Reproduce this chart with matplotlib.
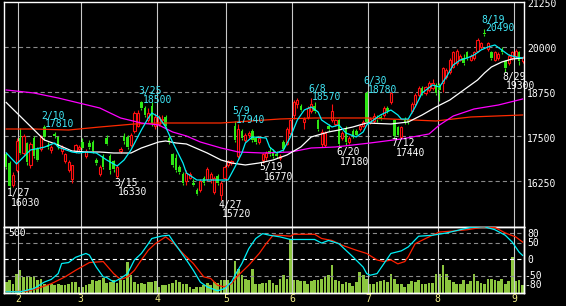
import matplotlib
matplotlib.use('Agg')
import matplotlib.pyplot as plt
import numpy as np

plt.rcParams['lines.scale_dashes'] = False
FONT = 'DejaVu Sans Mono'

# ---------------- data ----------------
opens = [17000,16750,16150,16550,17450,17050,17320,16700,17450,17150,17150,17760,17250,17120,17580,17480,17100,16800,16550,16300,
         17100,17150,17340,16950,17320,17350,16850,16450,16950,17450,16950,16800,16380,17100,17520,17480,17250,17650,17800,18450,
         18300,17950,18350,17800,17850,17950,18050,17450,17000,16900,16650,16450,16250,16350,16200,16000,16000,16350,16300,16300,
         15950,16400,15850,16350,16700,16750,17800,16950,17650,17400,17550,17650,17450,17350,16850,16920,17100,17050,17000,16900,
         17350,17300,17600,18100,18400,18350,17900,18050,18200,18350,17950,17300,17250,17800,17950,17850,17950,17450,17700,17350,
         17650,17650,17700,17800,18700,17900,17920,18050,18050,18100,18300,18450,17950,17750,17480,18000,17950,18200,18400,18650,
         18850,18700,18800,18850,18950,18950,19000,19150,19300,19450,19550,19650,19700,19850,19650,19700,19900,20000,20400,19950,
         19850,19650,19700,19950,19600,19550,19700,19750,19850,19600]
highs = [17050,16800,16500,17450,17730,17560,17350,17350,17500,17200,17550,17810,17350,17250,17620,17520,17250,17050,16850,16700,
         17300,17250,17450,17150,17400,17400,16900,16700,17000,17550,17000,16850,16700,17200,17600,17550,17600,18200,18250,18500,
         18350,18300,18450,18150,18100,18100,18100,17500,17050,17000,16700,16500,16550,16500,16300,16050,16300,16400,16650,16500,
         16400,16450,16250,16700,16850,16850,17940,17850,17700,17600,17650,17700,17500,17500,17050,17100,17200,17150,17100,17000,
         17400,17750,18000,18520,18560,18400,18050,18350,18570,18450,18000,17700,17650,17850,18400,18000,18000,17650,17800,17500,
         17700,17700,17850,17950,18780,18050,18150,18100,18100,18350,18350,18750,18000,17800,17800,18050,18000,18450,18700,18900,
         18900,18900,19050,19100,19000,19000,19450,19400,19700,19900,19950,19800,19800,19900,19800,19900,20250,20150,20490,20150,
         19900,19900,19850,20000,19650,19800,19900,19950,19900,19750]
lows = [16600,16030,16080,16500,17000,16950,16700,16620,16900,16800,17100,17400,17150,17050,17450,17150,17000,16750,16500,16200,
        17050,17080,17150,16900,17150,17050,16700,16400,16600,17250,16450,16500,16330,17050,17300,17150,17200,17600,17750,18250,
        18050,17900,17800,17700,17800,17900,17700,17300,16650,16500,16450,16150,16150,16300,16100,15850,15950,16150,16250,16200,
        15900,16150,15720,16300,16650,16700,17350,16900,17400,17350,17450,17350,17300,17300,16770,16850,16950,16900,16900,16850,
        17100,17250,17550,18000,18300,18200,17700,18000,18150,18150,17650,17200,17200,17650,17900,17800,17180,17400,17250,17300,
        17450,17500,17650,17750,17850,17850,17880,17900,17950,18050,18150,18400,17440,17500,17450,17850,17850,18150,18350,18600,
        18650,18650,18750,18800,18650,18500,18750,19100,19250,19400,19500,19600,19500,19650,19600,19650,19850,19950,20300,19900,
        19650,19600,19650,19800,19300,19500,19650,19700,19500,19550]
closes = [16650,16100,16420,17380,17050,17500,16780,17280,16950,16850,17480,17480,17200,17200,17500,17200,17200,17000,16780,16700,
          17250,17200,17180,17100,17200,17100,16750,16650,16650,17300,16550,16600,16650,17150,17380,17200,17550,18150,18150,18300,
          18100,18150,17850,18050,18050,18000,17800,17330,16700,16550,16500,16200,16480,16450,16150,15900,16250,16200,16600,16450,
          16350,16200,16200,16650,16800,16820,17400,17700,17450,17550,17600,17400,17350,17450,17000,17040,17000,16950,16950,16960,
          17150,17700,17950,18450,18520,18250,17980,18300,18400,18200,17700,17620,17600,17700,18200,17950,17300,17600,17350,17450,
          17500,17550,17800,17900,17900,18000,18080,17980,17980,18300,18220,18700,17500,17550,17750,17900,17900,18400,18650,18850,
          18700,18870,19000,19000,18700,18800,19400,19350,19650,19850,19900,19750,19550,19700,19750,19850,20200,20100,20350,20100,
          19700,19850,19800,19850,19400,19750,19850,19900,19600,19700]
volume = [92,112,78,161,189,133,139,133,139,112,120,78,64,78,64,78,64,64,78,92,
          92,50,50,64,78,106,100,112,128,83,92,106,83,106,106,258,147,92,78,83,
          78,92,92,97,50,64,64,78,83,106,92,78,78,50,36,50,50,64,83,64,
          92,83,112,106,112,92,272,203,147,120,106,203,78,78,83,83,112,83,64,120,
          147,120,453,112,106,97,97,78,97,106,112,120,133,147,231,112,100,78,92,83,
          57,92,175,147,120,78,78,92,100,106,92,161,120,78,72,50,78,97,92,112,
          78,72,83,83,161,161,231,161,112,92,72,78,112,72,100,161,100,83,78,120,
          120,112,97,120,78,97,300,100,106,64]

# moving-average lines (day index, value)
ma5_days = [0,3,7,11,14,15,19,21,23,26,29,32,34,36,39,41,42,44,46,48,51,52,55,58,61,64,66,68,69,71,75,76,78,80,82,84,86,88,90,91,
            94,96,98,101,103,104,108,111,113,114,116,118,120,123,125,127,129,131,133,135,137,139,141,143,145,147,149]
ma5_vals = [17040,16730,17120,17200,17316,17200,17064,17036,17064,17036,16840,16673,16840,17120,17679,18015,18155,18043,17763,17344,
            16757,16477,16281,16281,16281,16281,16645,17036,17316,17484,17456,17204,17036,17120,17484,17959,18238,18322,18183,17959,
            17763,17819,17596,17484,17624,17819,18099,18238,18099,17985,17985,18322,18714,18937,18882,19161,19497,19637,19692,19776,
            19916,20000,20056,19916,19776,19720,19692]
ma25_days = [0,11,15,19,23,27,31,36,39,44,46,49,52,54,58,62,65,69,73,77,81,85,88,93,96,100,104,111,116,120,124,128,132,136,138,140,143,146,149]
ma25_vals = [18450,17400,17260,17092,17064,17064,17036,17036,17176,17344,17372,17316,17288,17204,17036,16840,16757,16701,16757,16840,
             16980,17204,17484,17624,17679,17763,17875,17847,17903,18099,18322,18518,18798,19077,19273,19441,19581,19664,19692]
ma75_days = [0,8,15,21,27,33,39,44,48,52,56,62,67,74,82,88,95,100,105,114,122,125,129,135,142,149]
ma75_vals = [18798,18714,18574,18434,18294,18015,17875,17819,17624,17512,17344,17176,17064,17036,17064,17176,17204,17260,17316,17428,
             17568,17819,18071,18267,18378,18546]
ma200_days = [0,8,18,27,37,44,62,79,89,104,124,134,149]
ma200_vals = [17707,17707,17679,17763,17847,17875,17875,17987,18015,18015,17931,18043,18099]

osc1_days = [0,4,8,11,13,15,16,18,20,23,24,26,28,29,31,33,35,37,39,41,42,45,47,48,50,52,54,56,58,61,63,65,66,68,70,72,74,76,79,82,
             89,91,93,96,98,100,103,104,105,107,109,111,114,116,119,123,127,131,134,138,141,144,146,148,149]
osc1_vals = [-100,-100,-90,-70,-62,-44,-13,-10,6,18,13,-24,-54,-56,-70,-59,-44,-2,18,48,64,72,74,58,28,-2,-34,-70,-85,-97,-90,-70,-49,-13,33,64,79,74,69,61,
             61,50,58,48,28,8,-24,-44,-49,-44,-13,18,26,38,71,74,81,91,98,100,91,74,53,22,12]
osc2_days = [0,6,9,13,17,20,24,28,31,33,35,37,39,41,43,46,48,51,54,57,59,61,63,65,67,70,73,75,77,79,82,83,89,91,94,97,101,104,107,109,
             111,113,115,116,118,121,125,129,133,137,141,144,147,149]
osc2_vals = [-100,-98,-90,-75,-54,-34,-10,-7,-44,-62,-54,-34,-2,28,48,69,53,18,-13,-54,-59,-80,-85,-75,-49,-18,18,48,74,74,71,77,77,64,58,43,28,18,-2,-7,
             -2,-14,-7,8,48,64,84,87,91,98,98,81,69,53]

month_labels = ['2', '3', '4', '5', '6', '7', '8', '9']
month_first_day = [4, 22, 44, 64, 83, 105, 125, 147]

high_days = [11, 39, 66, 88, 104, 138]
high_dates = ['2/10', '3/25', '5/9', '6/8', '6/30', '8/19']
high_prices = [17810, 18500, 17940, 18570, 18780, 20490]
low_days = [1, 32, 62, 74, 96, 112, 144]
low_dates = ['1/27', '3/15', '4/27', '5/19', '6/20', '7/12', '8/29']
low_prices = [16030, 16330, 15720, 16770, 17180, 17440, 19300]

price_ticks = [21250, 20000, 18750, 17500, 16250]
osc_ticks = [80, 50, 0, -50, -80]

# ---------------- layout ----------------
W, H = 566, 306
fig = plt.figure(figsize=(W / 100, H / 100), dpi=100, facecolor='black')

def fx(px):
    return px / W

def fy(py):
    return 1 - py / H

L, R, T, MID, B = 4, 524, 2, 227, 293
ax = fig.add_axes([fx(L), fy(MID), fx(R) - fx(L), fy(T) - fy(MID)])
axv = fig.add_axes([fx(L), fy(B), fx(R) - fx(L), fy(MID) - fy(B)])
axo = axv.twinx()

XL = (-0.635, 149.4)
P_TOP, P_BOT = 21258, 14967
for a in (ax, axv, axo):
    a.set_facecolor('black')
    a.set_xlim(*XL)
    a.set_xticks([])
    a.set_yticks([])
    for s in a.spines.values():
        s.set_color('white')
        s.set_linewidth(1.0)
axo.patch.set_visible(False)
ax.set_ylim(P_BOT, P_TOP)
axv.set_ylim(0, 553)
axo.set_ylim(-103.7, 99.4)

GRAY = '#8a8a8a'
DASH = (0, (3, 2.2))

# grid lines main
for p in price_ticks[1:]:
    ax.axhline(p, color=GRAY, lw=0.8, ls=DASH, zorder=1)
for d in month_first_day:
    ax.axvline(d - 0.5, color='#c8c8c8', lw=0.8, zorder=1)
    axo.axvline(d - 0.5, color='#c8c8c8', lw=0.8, zorder=2)

# candles
o, h, l, c = (np.array(v, dtype=float) for v in (opens, highs, lows, closes))
idx = np.arange(len(o))
up = c >= o
top = np.maximum(o, c)
bot = np.minimum(o, c)
body = np.maximum(top - bot, 22)
RED = '#ff1010'
GRN = '#2ee614'
wcol = np.where(up, RED, GRN)
ax.vlines(idx, top, h, colors=wcol, lw=0.8, zorder=2)
ax.vlines(idx, l, bot, colors=wcol, lw=0.8, zorder=2)
ax.bar(idx[up], body[up], bottom=bot[up], width=0.62, facecolor='black',
       edgecolor=RED, linewidth=0.8, zorder=3)
ax.bar(idx[~up], body[~up], bottom=bot[~up], width=0.72, color=GRN,
       linewidth=0, zorder=3)

# moving averages
ax.plot(ma200_days, ma200_vals, color='#ff2a00', lw=0.9, zorder=4)
ax.plot(ma75_days, ma75_vals, color='#ff00ff', lw=0.9, zorder=4)
ax.plot(ma25_days, ma25_vals, color='white', lw=0.9, zorder=4)
ax.plot(ma5_days, ma5_vals, color='#00f0f8', lw=0.9, zorder=5)

# annotations
CY = '#40e8f8'
for d, s, p in zip(high_days, high_dates, high_prices):
    ax.annotate(s, xy=(d, p), xytext=(-3, 6.5), textcoords='offset pixels',
                color=CY, fontsize=7, family=FONT, ha='left', va='baseline', zorder=6)
    ax.annotate(str(p), xy=(d, p), xytext=(1, -2), textcoords='offset pixels',
                color=CY, fontsize=7, family=FONT, ha='left', va='baseline', zorder=6)
for d, s, p in zip(low_days, low_dates, low_prices):
    ax.annotate(s, xy=(d, p), xytext=(-3, -7.5), textcoords='offset pixels',
                color='white', fontsize=7, family=FONT, ha='left', va='baseline', zorder=6)
    ax.annotate(str(p), xy=(d, p), xytext=(1, -17), textcoords='offset pixels',
                color='white', fontsize=7, family=FONT, ha='left', va='baseline', zorder=6)

# lower panel: volume + oscillator
axv.bar(idx, volume, width=0.78, color='#8cc63f', linewidth=0, zorder=1)
for v in (80, 50, -50):
    axo.axhline(v, color=GRAY, lw=0.8, ls=DASH, zorder=1)
axo.axhline(0, color='white', lw=0.8, ls=DASH, zorder=1)
axo.plot(osc2_days, osc2_vals, color='#ff2000', lw=0.9, zorder=4)
axo.plot(osc1_days, osc1_vals, color='#00f0f8', lw=0.9, zorder=5)

# right-hand labels
def price_to_py(p):
    return T + (P_TOP - p) / (P_TOP - P_BOT) * (MID - T)

for p in price_ticks:
    base = price_to_py(p) + 5.5
    if p == 21250:
        base = 6.8
    fig.text(fx(527), fy(base), str(p), color='white', fontsize=7, family=FONT,
             ha='left', va='baseline')

def osc_to_py(v):
    return MID + (99.4 - v) / (99.4 + 103.7) * (B - MID)

for v in osc_ticks:
    lab = str(v)
    xpx = 527 if v >= 0 else 524
    fig.text(fx(xpx), fy(osc_to_py(v) + 3.2), lab, color='white', fontsize=7, family=FONT,
             ha='left', va='baseline')
fig.text(fx(8), fy(235.5), '500', color='white', fontsize=7, family=FONT, ha='left', va='baseline')

# month labels
for lab, d in zip(month_labels, month_first_day):
    xp = 6.2 + (d - 0.5) * 3.466
    fig.text(fx(xp), fy(302.3), lab, color='#f4f088', fontsize=7, family=FONT,
             ha='center', va='baseline')

fig.savefig('out.png', dpi=100, facecolor='black')
